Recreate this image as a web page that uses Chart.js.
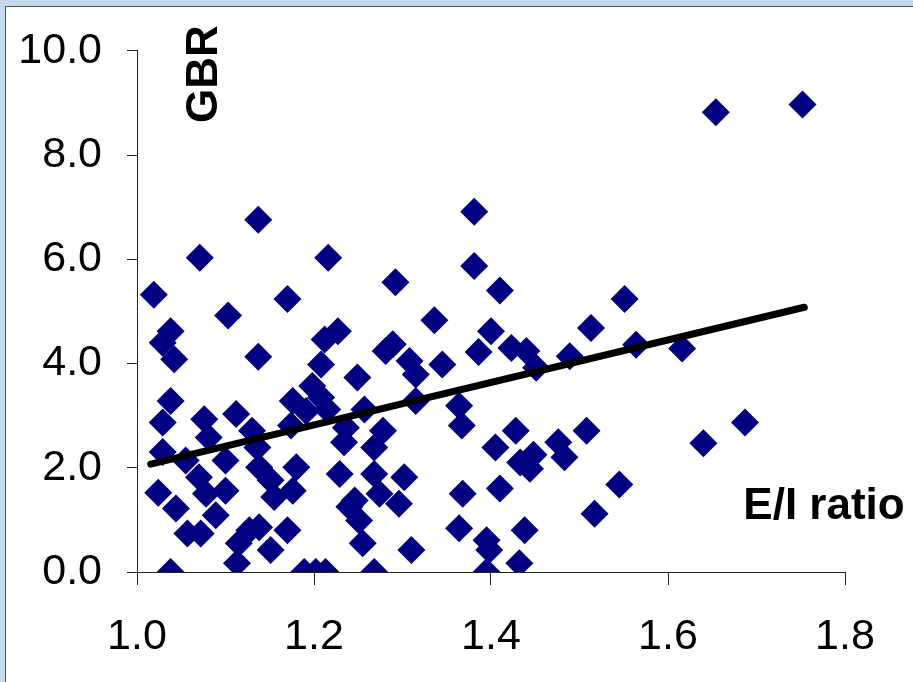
<!DOCTYPE html>
<html>
<head>
<meta charset="utf-8">
<title>GBR vs E/I ratio</title>
<script src="https://cdn.jsdelivr.net/npm/chart.js@4"></script>
<style>
    body { margin: 0; background: #c6daee; overflow: hidden; }
    #frame { position: absolute; left: 5px; top: 6px; width: 910px; height: 680px; background: #fff; border-left: 1px solid #555; border-top: 1px solid #555; }
    #chart { position: absolute; left: 0; top: 0; }
</style>
</head>
<body>
<div id="frame"></div>
<canvas id="chart" width="913" height="682"></canvas>
<script>
// E/I ratio (x) and GBR (y)
const eiRatio = [
    1.752, 1.654, 1.381, 1.137, 1.071, 1.216, 1.381, 1.292, 1.410, 1.019,
    1.170, 1.551, 1.103, 1.336, 1.038, 1.227, 1.400, 1.513, 1.029, 1.212,
    1.564, 1.616, 1.042, 1.137, 1.281, 1.289, 1.308, 1.345, 1.208, 1.386,
    1.423, 1.440, 1.451, 1.489, 1.315, 1.249, 1.198, 1.038, 1.176, 1.208,
    1.315, 1.191, 1.215, 1.257, 1.364, 1.367, 1.029, 1.076, 1.112, 1.174,
    1.236, 1.278, 1.130, 1.428, 1.508, 1.687, 1.640, 1.081, 1.136, 1.234,
    1.268, 1.405, 1.476, 1.483, 1.433, 1.448, 1.444, 1.029, 1.055, 1.100,
    1.138, 1.180, 1.229, 1.268, 1.302, 1.070, 1.151, 1.100, 1.024, 1.078,
    1.176, 1.155, 1.274, 1.368, 1.410, 1.545, 1.246, 1.296, 1.240, 1.044,
    1.089, 1.517, 1.251, 1.057, 1.072, 1.127, 1.138, 1.170, 1.364, 1.438,
    1.115, 1.255, 1.395, 1.151, 1.310, 1.398, 1.113, 1.432, 1.038, 1.189,
    1.202, 1.213, 1.268, 1.395
];
const gbr = [
    8.97, 8.82, 6.91, 6.76, 6.03, 6.03, 5.87, 5.56, 5.40, 5.32,
    5.24, 5.24, 4.92, 4.83, 4.62, 4.62, 4.62, 4.68, 4.40, 4.46,
    4.36, 4.29, 4.08, 4.13, 4.24, 4.37, 4.05, 3.98, 3.98, 4.22,
    4.30, 4.24, 3.92, 4.14, 3.79, 3.73, 3.57, 3.28, 3.28, 3.35,
    3.28, 3.09, 3.12, 3.12, 3.19, 2.81, 2.87, 2.93, 3.03, 2.81,
    2.77, 2.71, 2.71, 2.71, 2.71, 2.87, 2.47, 2.58, 2.39, 2.49,
    2.39, 2.39, 2.49, 2.20, 2.10, 2.25, 1.98, 2.30, 2.14, 2.14,
    2.01, 2.01, 1.88, 1.88, 1.82, 1.82, 1.76, 1.56, 1.52, 1.50,
    1.56, 1.44, 1.50, 1.50, 1.60, 1.68, 1.37, 1.31, 1.25, 1.22,
    1.09, 1.12, 0.99, 0.74, 0.74, 0.80, 0.86, 0.80, 0.84, 0.80,
    0.55, 0.55, 0.61, 0.42, 0.42, 0.42, 0.17, 0.17, 0.00, 0.00,
    0.00, 0.00, 0.00, 0.00
];

// trend line end points
const trendX = [1.0155, 1.754];
const trendY = [2.07, 5.08];

const xTicks = [1.0, 1.2, 1.4, 1.6, 1.8];
const yTicks = [0, 2, 4, 6, 8, 10];

const points = eiRatio.map((x, i) => ({ x: x, y: gbr[i] }));
const trend = trendX.map((x, i) => ({ x: x, y: trendY[i] }));

// the two labels that sit inside the plot
const innerLabels = {
    id: "innerLabels",
    afterDraw(chart) {
        const ctx = chart.ctx;
        ctx.save();
        ctx.fillStyle = "#000";
        ctx.font = "bold 44px 'Liberation Sans', Arial, sans-serif";
        ctx.textAlign = "center";
        ctx.textBaseline = "middle";
        ctx.fillText("E/I ratio", 824, 507);
        ctx.translate(204, 74);
        ctx.rotate(-Math.PI / 2);
        ctx.fillText("GBR", 0, 1);
        ctx.restore();
    }
};

const tickFont = { family: "'Liberation Sans', Arial, sans-serif", size: 43 };

new Chart(document.getElementById("chart"), {
    type: "scatter",
    data: {
        datasets: [
            {
                type: "line",
                data: trend,
                borderColor: "#000",
                borderWidth: 7,
                borderCapStyle: "round",
                pointRadius: 0,
                fill: false
            },
            {
                data: points,
                pointStyle: "rectRot",
                pointRadius: 14,
                pointHoverRadius: 14,
                backgroundColor: "#000080",
                borderWidth: 0
            }
        ]
    },
    options: {
        responsive: false,
        animation: false,
        events: [],
        layout: { padding: { left: 0, top: 49, right: 68, bottom: 0 } },
        plugins: { legend: { display: false }, tooltip: { enabled: false } },
        scales: {
            x: {
                type: "linear",
                min: 1.0,
                max: 1.8,
                afterBuildTicks: scale => { scale.ticks = xTicks.map(v => ({ value: v })); },
                afterFit: scale => { scale.height = 110; },
                ticks: {
                    callback: v => Number(v).toFixed(1),
                    font: tickFont,
                    color: "#000",
                    padding: 26,
                    maxRotation: 0
                },
                grid: { drawOnChartArea: false, tickLength: 13, tickColor: "#222" },
                border: { color: "#222", width: 1 }
            },
            y: {
                min: 0,
                max: 10,
                afterBuildTicks: scale => { scale.ticks = yTicks.map(v => ({ value: v })); },
                afterFit: scale => { scale.width = 137; },
                ticks: {
                    callback: v => Number(v).toFixed(1),
                    font: tickFont,
                    color: "#000",
                    padding: 25
                },
                grid: { drawOnChartArea: false, tickLength: 10, tickColor: "#222" },
                border: { color: "#222", width: 1 }
            }
        }
    },
    plugins: [innerLabels]
});
</script>
</body>
</html>
